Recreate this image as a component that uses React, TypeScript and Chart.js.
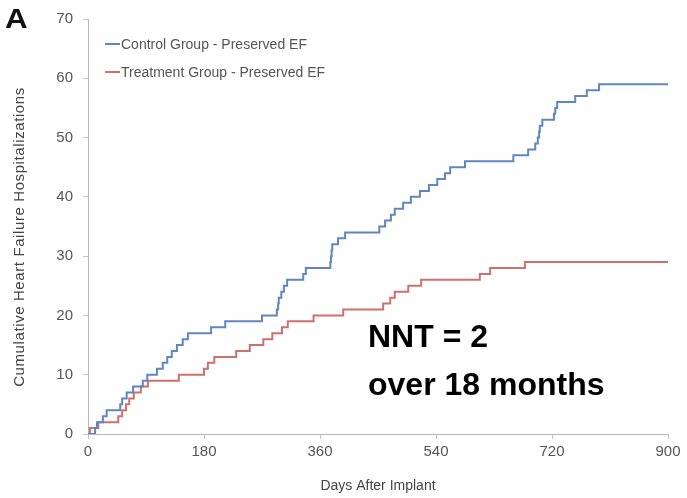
import React, { useEffect, useRef } from "react";
import { Chart, registerables } from "chart.js";

Chart.register(...registerables);

// Control group (blue) – day of each event and cumulative count
const controlDays = [0, 11, 14, 23, 29, 50, 53, 60, 70, 85, 92, 107, 116, 123, 130, 138, 147, 155, 191, 213, 270, 293, 295, 296, 300, 304, 309, 334, 338, 376, 377, 378, 379, 388, 399, 452, 461, 470, 476, 489, 501, 515, 529, 542, 554, 562, 585, 660, 683, 694, 698, 700, 701, 705, 723, 725, 728, 756, 774, 793, 900];
const controlCounts = [0, 1, 2, 3, 4, 5, 6, 7, 8, 9, 10, 11, 12, 13, 14, 15, 16, 17, 18, 19, 20, 21, 22, 23, 24, 25, 26, 27, 28, 29, 30, 31, 32, 33, 34, 35, 36, 37, 38, 39, 40, 41, 42, 43, 44, 45, 46, 47, 48, 49, 50, 51, 52, 53, 54, 55, 56, 57, 58, 59, 59];

// Treatment group (red)
const treatmentDays = [0, 3, 16, 47, 53, 59, 64, 71, 82, 93, 141, 180, 186, 196, 230, 251, 272, 286, 301, 310, 350, 396, 458, 469, 476, 497, 517, 608, 624, 678, 900];
const treatmentCounts = [0, 1, 2, 3, 4, 5, 6, 7, 8, 9, 10, 11, 12, 13, 14, 15, 16, 17, 18, 19, 20, 21, 22, 23, 24, 25, 26, 27, 28, 29, 29];

const xTicks = [0, 180, 360, 540, 720, 900];
const yTicks = [0, 10, 20, 30, 40, 50, 60, 70];

const seriesNames = ["Control Group - Preserved EF", "Treatment Group - Preserved EF"];
const seriesColors = ["#5f86c0", "#d0706a"];
const xTitle = "Days After Implant";
const yTitle = "Cumulative Heart Failure Hospitalizations";

const FONT = '"Liberation Sans", Arial, sans-serif';

export default function App() {
  const canvasRef = useRef<HTMLCanvasElement | null>(null);

  useEffect(() => {
    if (!canvasRef.current) return;
    const toPts = (xs: number[], ys: number[]) => xs.map((x, i) => ({ x, y: ys[i] }));
    const chart = new Chart(canvasRef.current, {
      type: "line",
      data: {
        datasets: [
          {
            label: seriesNames[0],
            data: toPts(controlDays, controlCounts),
            borderColor: seriesColors[0],
            backgroundColor: seriesColors[0],
            borderWidth: 2,
            stepped: "before",
            pointRadius: 0,
            fill: false,
          },
          {
            label: seriesNames[1],
            data: toPts(treatmentDays, treatmentCounts),
            borderColor: seriesColors[1],
            backgroundColor: seriesColors[1],
            borderWidth: 2,
            stepped: "before",
            pointRadius: 0,
            fill: false,
          },
        ],
      },
      options: {
        animation: false,
        responsive: true,
        maintainAspectRatio: false,
        layout: { padding: { left: 0, right: 19, top: 16, bottom: 0 } },
        plugins: { legend: { display: false }, tooltip: { enabled: false } },
        scales: {
          x: {
            type: "linear",
            min: 0,
            max: 900,
            afterBuildTicks: (s: any) => {
              s.ticks = xTicks.map((v) => ({ value: v }));
            },
            afterFit: (s: any) => {
              s.height = 64;
            },
            grid: { display: true, drawOnChartArea: false, drawTicks: true, tickLength: 5, color: "#c4c4c4" },
            border: { display: true, color: "#b8b8b8", width: 1 },
            ticks: { color: "#555", font: { family: FONT, size: 15 }, padding: 4, maxRotation: 0 },
            title: { display: true, text: xTitle, color: "#444", font: { family: FONT, size: 14 }, padding: { top: 0, bottom: 3 } },
          },
          y: {
            type: "linear",
            min: 0,
            max: 70,
            afterBuildTicks: (s: any) => {
              s.ticks = yTicks.map((v) => ({ value: v }));
            },
            afterFit: (s: any) => {
              s.width = 88;
            },
            grid: { display: true, drawOnChartArea: false, drawTicks: true, tickLength: 5, color: "#c4c4c4" },
            border: { display: true, color: "#b8b8b8", width: 1 },
            ticks: { color: "#555", font: { family: FONT, size: 15 }, padding: 10 },
            title: { display: false },
          },
        },
      },
    });
    return () => chart.destroy();
  }, []);

  return (
    <div style={{ position: "absolute", left: 0, top: 0, width: 687, height: 498, background: "#fff", overflow: "hidden", fontFamily: FONT }}>
      <canvas ref={canvasRef} />
      <div
        style={{
          position: "absolute",
          left: 19,
          top: 237,
          transform: "translate(-50%, -50%) rotate(-90deg)",
          fontSize: 15,
          letterSpacing: "0.6px",
          color: "#444",
          whiteSpace: "nowrap",
          lineHeight: "18px",
        }}
      >
        {yTitle}
      </div>
      <div style={{ position: "absolute", left: 5, top: 4, fontSize: 28, lineHeight: "30px", fontWeight: 700, color: "#111", transform: "scaleX(1.12)", transformOrigin: "left top" }}>A</div>
      {seriesNames.map((name, i) => (
        <div key={name} style={{ position: "absolute", left: 105, top: 36 + i * 28, height: 16, display: "flex", alignItems: "center" }}>
          <div style={{ width: 15, height: 2, background: seriesColors[i], marginRight: 1 }} />
          <span style={{ fontSize: 14, color: "#555", whiteSpace: "nowrap" }}>{name}</span>
        </div>
      ))}
      <div style={{ position: "absolute", left: 368, top: 312, fontSize: 32, lineHeight: "48px", fontWeight: 700, color: "#000", whiteSpace: "nowrap" }}>
        <div>NNT = 2</div>
        <div>over 18 months</div>
      </div>
    </div>
  );
}
